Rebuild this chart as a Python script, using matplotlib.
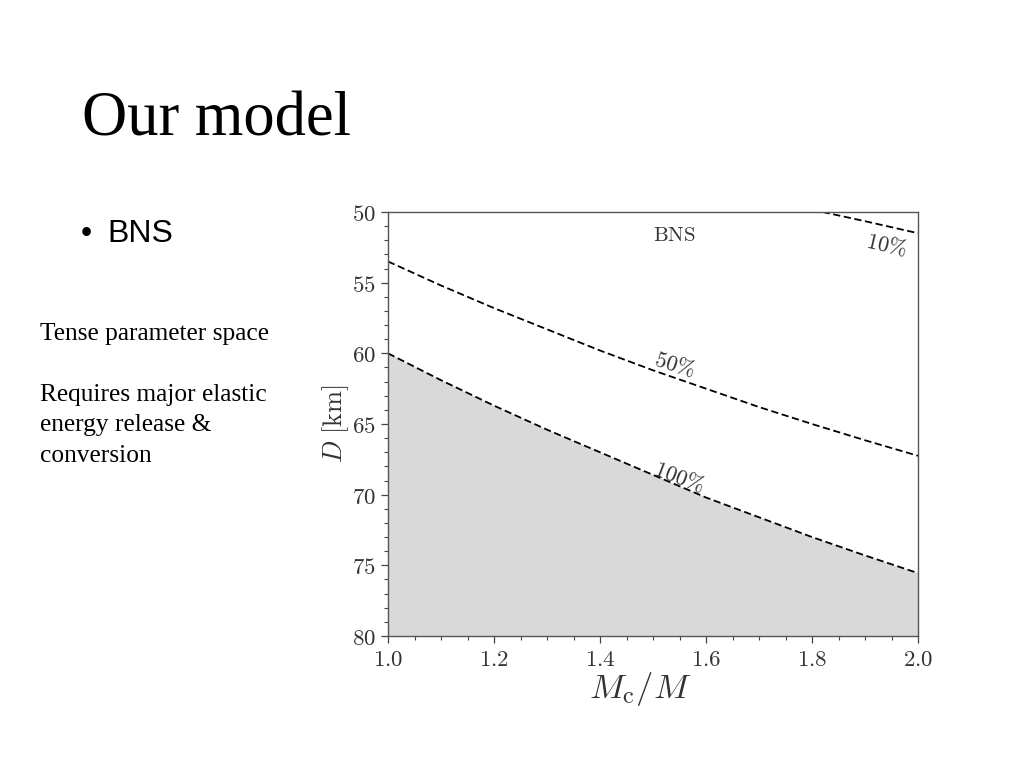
import matplotlib
matplotlib.use('Agg')
from matplotlib import pyplot as plt
from matplotlib.ticker import MultipleLocator, FuncFormatter
import numpy as np

plt.rcParams['mathtext.fontset'] = 'cm'

# values
mass_ratio = [1.0, 1.1, 1.2, 1.3, 1.4, 1.5, 1.6, 1.7, 1.8, 1.9, 2.0]
d_100 = [60.0, 61.9, 63.7, 65.4, 67.0, 68.6, 70.2, 71.6, 73.0, 74.3, 75.55]
d_50 = [53.5, 55.2, 56.8, 58.3, 59.8, 61.2, 62.5, 63.8, 65.0, 66.15, 67.25]
mass_ratio_10 = [1.82, 1.9, 2.0]
d_10 = [50.0, 50.65, 51.5]

labels = ['100%', '50%', '10%']
label_pos = [(1.55, 68.75), (1.54, 60.8), (1.94, 52.35)]
label_rot = [-21, -17, -13]

notes = ['Tense parameter space', '', 'Requires major elastic',
         'energy release &', 'conversion']

fig = plt.figure(figsize=(10.24, 7.68), dpi=100)

# slide text
fig.text(0.08, 1 - 135 / 768, 'Our model', family='Liberation Serif', fontsize=45)
fig.text(81 / 1024, 1 - 242 / 768, '\u2022', family='Liberation Sans', fontsize=23)
fig.text(107 / 1024, 1 - 242 / 768, 'BNS', family='Liberation Sans', fontsize=23)
for i, line in enumerate(notes):
    fig.text(40 / 1024, 1 - (340 + 30.5 * i) / 768, line,
             family='Liberation Serif', fontsize=18.3, va='baseline')

ax = fig.add_axes([388 / 1024, 1 - 636 / 768, 530 / 1024, 424 / 768])
ax.fill_between(mass_ratio, d_100, 80, color='#d9d9d9', lw=0)
ax.plot(mass_ratio, d_100, 'k--', lw=1.3, dashes=(4, 2))
ax.plot(mass_ratio, d_50, 'k--', lw=1.3, dashes=(4, 2))
ax.plot(mass_ratio_10, d_10, 'k--', lw=1.3, dashes=(4, 2))

for lab, (x, y), r in zip(labels, label_pos, label_rot):
    ax.text(x, y, r'$\it{' + lab.replace('%', r'\%') + '}$', rotation=r,
            ha='center', va='center', fontsize=16, color='#333333')

ax.text(1.54, 51.6, r'$\rm{BNS}$', ha='center', va='center', fontsize=15,
        color='#333333')

ax.set_xlim(1.0, 2.0)
ax.set_ylim(80, 50)
ax.xaxis.set_major_locator(MultipleLocator(0.2))
ax.xaxis.set_minor_locator(MultipleLocator(0.05))
ax.yaxis.set_major_locator(MultipleLocator(5))
ax.yaxis.set_minor_locator(MultipleLocator(1))
ax.xaxis.set_major_formatter(FuncFormatter(lambda v, p: '$%.1f$' % v))
ax.yaxis.set_major_formatter(FuncFormatter(lambda v, p: '$%d$' % v))
ax.tick_params(which='major', direction='out', length=5, width=0.9,
               labelsize=16.5, colors='#444444', labelcolor='#333333')
ax.tick_params(which='minor', direction='out', length=3, width=0.8,
               colors='#444444')
for s in ax.spines.values():
    s.set_color('#555555')
    s.set_linewidth(1.0)

ax.set_xlabel(r'$M_{\rm c}/M$', fontsize=25, color='#333333')
ax.set_ylabel(r'$D\ [{\rm km}]$', fontsize=19, color='#333333')
ax.xaxis.set_label_coords(0.475, -0.08)
ax.yaxis.set_label_coords(-0.07, 0.5)

fig.savefig('out.png', dpi=100)
